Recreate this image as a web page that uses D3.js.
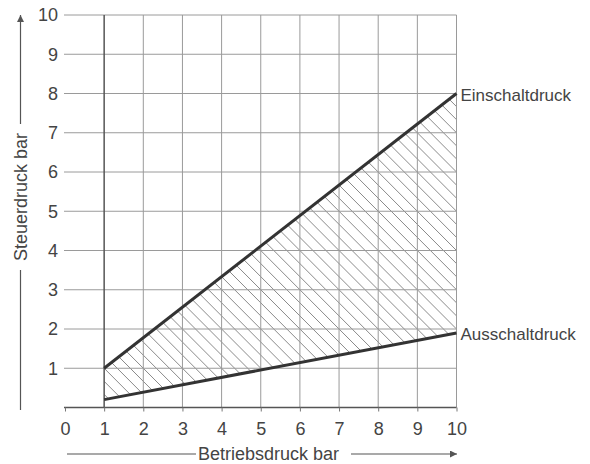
<!DOCTYPE html>
<html>
<head>
<meta charset="utf-8">
<script src="https://cdn.jsdelivr.net/npm/d3@7"></script>
<style>
  body { margin: 0; background: #fff; }
  text { font-family: "Liberation Sans", Arial, sans-serif; fill: #444; }
</style>
</head>
<body>
<div id="chart"></div>
<script>
// data
const xTicks = [0, 1, 2, 3, 4, 5, 6, 7, 8, 9, 10]
const yTicks = [0, 1, 2, 3, 4, 5, 6, 7, 8, 9, 10]
const betriebsdruck = [1, 10]
const einschaltdruck = [1.0, 8.0]
const ausschaltdruck = [0.2, 1.9]
const seriesNames = ["Einschaltdruck", "Ausschaltdruck"]
const xTitle = "Betriebsdruck bar"
const yTitle = "Steuerdruck bar"

const width = 590, height = 464

const x = d3.scaleLinear().domain([0, 10]).range([65, 456.5])
const y = d3.scaleLinear().domain([0, 10]).range([407.5, 15])

const svg = d3.select("#chart").append("svg")
  .attr("width", width).attr("height", height)

const defs = svg.append("defs")
defs.append("marker")
  .attr("id", "arrow")
  .attr("viewBox", "0 0 10 10")
  .attr("refX", 10).attr("refY", 5)
  .attr("markerWidth", 10).attr("markerHeight", 7)
  .attr("markerUnits", "userSpaceOnUse")
  .attr("orient", "auto")
  .append("path").attr("d", "M0,0 L10,5 L0,10 z").attr("fill", "#555")

// hatch region between the two lines
const band = betriebsdruck.map((b, i) => ({x: b, hi: einschaltdruck[i], lo: ausschaltdruck[i]}))
defs.append("clipPath").attr("id", "bandClip")
  .append("path")
  .attr("d", d3.area().x(d => x(d.x)).y0(d => y(d.lo)).y1(d => y(d.hi))(band))

const hatch = svg.append("g").attr("clip-path", "url(#bandClip)")
hatch.selectAll("line")
  .data(d3.range(-10, 21, 1 / 3))
  .join("line")
  .attr("x1", c => x(c - 10)).attr("y1", y(10))
  .attr("x2", c => x(c)).attr("y2", y(0))
  .attr("stroke", "#8a8a8a").attr("stroke-width", 1)

// grid
svg.append("g").selectAll("line")
  .data(yTicks.filter(d => d > 0))
  .join("line")
  .attr("x1", x(0) - 1).attr("x2", x(10))
  .attr("y1", d => y(d)).attr("y2", d => y(d))
  .attr("stroke", "#9a9a9a").attr("stroke-width", 1)

svg.append("g").selectAll("line")
  .data(xTicks.filter(d => d > 1))
  .join("line")
  .attr("x1", d => x(d)).attr("x2", d => x(d))
  .attr("y1", y(0)).attr("y2", y(10))
  .attr("stroke", "#9a9a9a").attr("stroke-width", 1)

// axis at x=1 and bottom axis
svg.append("line")
  .attr("x1", x(1)).attr("x2", x(1)).attr("y1", y(0)).attr("y2", y(10))
  .attr("stroke", "#555").attr("stroke-width", 1.5)

const xAxis = svg.append("g")
  .attr("transform", "translate(0," + y(0) + ")")
  .call(d3.axisBottom(x).tickValues(xTicks).tickSize(4).tickPadding(6))
xAxis.select(".domain").attr("stroke", "#555").attr("stroke-width", 1.5).attr("d", "M" + (x(0) - 1) + ",0H" + x(10))
xAxis.selectAll(".tick line").attr("stroke", "#777")
xAxis.selectAll("text").style("font-size", "18px").attr("fill", "#444").attr("dy", "0.95em")

const yAxis = svg.append("g")
  .attr("transform", "translate(" + x(0) + ",0)")
  .call(d3.axisLeft(y).tickValues(yTicks.filter(d => d > 0)).tickSize(0).tickPadding(7))
yAxis.select(".domain").remove()
yAxis.selectAll("text").style("font-size", "18px").attr("fill", "#444")

// the two lines
const lines = [einschaltdruck, ausschaltdruck]
svg.append("g").selectAll("path")
  .data(lines)
  .join("path")
  .attr("d", vals => d3.line().x((d, i) => x(betriebsdruck[i])).y(d => y(d))(vals))
  .attr("fill", "none").attr("stroke", "#333").attr("stroke-width", 3)

svg.append("g").selectAll("text")
  .data(lines)
  .join("text")
  .attr("x", x(10) + 4)
  .attr("y", vals => y(vals[1]) + 7)
  .style("font-size", "17px")
  .text((d, i) => seriesNames[i])

// x title with arrow
svg.append("text")
  .attr("x", 198).attr("y", 460)
  .style("font-size", "18px")
  .text(xTitle)
svg.append("line")
  .attr("x1", 67).attr("x2", 196).attr("y1", 454).attr("y2", 454)
  .attr("stroke", "#555").attr("stroke-width", 1.2)
svg.append("line")
  .attr("x1", 351).attr("x2", 457).attr("y1", 454).attr("y2", 454)
  .attr("stroke", "#555").attr("stroke-width", 1.2)
  .attr("marker-end", "url(#arrow)")

// y title with arrow
svg.append("text")
  .attr("transform", "translate(27,197) rotate(-90)")
  .attr("text-anchor", "middle")
  .style("font-size", "18px")
  .text(yTitle)
svg.append("line")
  .attr("x1", 20.5).attr("x2", 20.5).attr("y1", 410).attr("y2", 270)
  .attr("stroke", "#555").attr("stroke-width", 1.2)
svg.append("line")
  .attr("x1", 20.5).attr("x2", 20.5).attr("y1", 124).attr("y2", 15)
  .attr("stroke", "#555").attr("stroke-width", 1.2)
  .attr("marker-end", "url(#arrow)")
</script>
</body>
</html>
